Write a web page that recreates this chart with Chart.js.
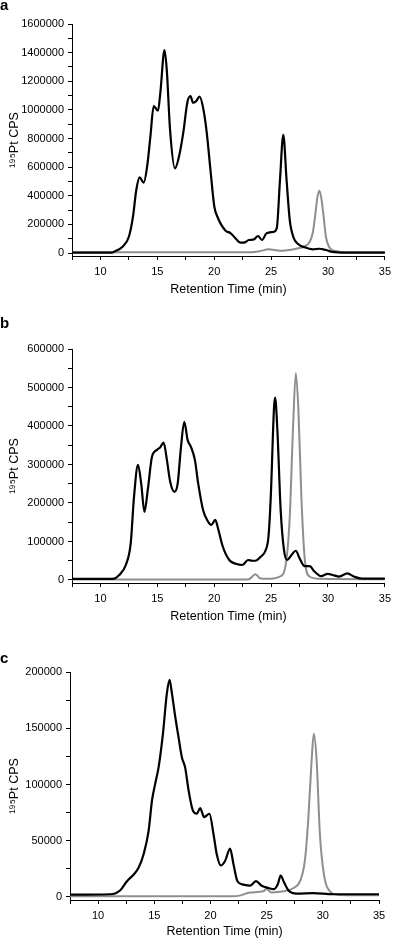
<!DOCTYPE html>
<html>
<head>
<meta charset="utf-8">
<script src="https://cdn.jsdelivr.net/npm/chart.js@4"></script>
<style>
  html, body { margin: 0; padding: 0; background: #fff; width: 396px; height: 939px; overflow: hidden; }
  .panel { position: absolute; left: 0; }
</style>
</head>
<body>
<div class="panel" id="wrapA" style="top:0px"><canvas id="chartA" width="396" height="305"></canvas></div>
<div class="panel" id="wrapB" style="top:305px"><canvas id="chartB" width="396" height="323"></canvas></div>
<div class="panel" id="wrapC" style="top:628px"><canvas id="chartC" width="396" height="320"></canvas></div>
<script>
// ---- data (retention time in min, 195Pt counts per second) ----

// panel a
const timeA_black = [7.5, 11.0, 11.2, 11.94, 12.5, 12.86, 13.15, 13.44, 13.8, 14.1, 14.39, 14.68, 15.06, 15.26, 15.63, 15.83, 16.12, 16.55, 16.9, 17.27, 17.65, 17.91, 18.14, 18.37, 18.72, 19.06, 19.35, 19.67, 20.01, 20.3, 20.6, 21.0, 21.45, 21.9, 22.3, 22.6, 23.05, 23.48, 23.85, 24.2, 24.6, 25.2, 25.5, 25.78, 26.07, 26.36, 26.64, 26.99, 27.37, 27.94, 28.66, 29.24, 29.82, 30.4, 31.5, 35];
const cpsA_black = [3000, 3000, 9000, 44000, 114000, 254000, 440000, 529000, 491000, 603000, 813000, 1027000, 994000, 1116000, 1418000, 1279000, 859000, 592000, 673000, 836000, 1057000, 1097000, 1050000, 1057000, 1092000, 999000, 836000, 580000, 324000, 250000, 200000, 156000, 138000, 100000, 72000, 72000, 91000, 95000, 119000, 91000, 138000, 147000, 175000, 510000, 825000, 510000, 230000, 105000, 63000, 40000, 26000, 30000, 21000, 8000, 3000, 3000];
const timeA_grey = [7.5, 22.5, 23.2, 24.0, 24.77, 25.78, 26.9, 27.5, 27.9, 28.37, 28.66, 28.9, 29.05, 29.24, 29.4, 29.58, 29.82, 30.1, 30.67, 31.5, 35];
const cpsA_grey = [5000, 5000, 5000, 12000, 26000, 16000, 25000, 35000, 45000, 75000, 140000, 280000, 380000, 435000, 390000, 280000, 112000, 42000, 14000, 6000, 5000];

// panel b
const timeB_black = [7.5, 11.07, 11.65, 12.23, 12.66, 12.95, 13.3, 13.58, 13.87, 14.16, 14.53, 14.97, 15.26, 15.55, 15.84, 16.13, 16.5, 16.79, 17.08, 17.37, 17.66, 17.95, 18.3, 18.59, 19.02, 19.45, 19.74, 20.09, 20.37, 20.75, 21.32, 21.9, 22.48, 22.97, 23.34, 23.63, 24.06, 24.5, 24.77, 24.97, 25.26, 25.35, 25.55, 25.84, 26.13, 26.41, 26.79, 27.17, 27.51, 27.95, 28.38, 28.81, 29.39, 29.97, 30.54, 30.98, 31.7, 32.28, 33, 35];
const cpsB_black = [3000, 3000, 13000, 39000, 95000, 216000, 299000, 251000, 177000, 234000, 320000, 338000, 345000, 357000, 312000, 255000, 229000, 251000, 346000, 411000, 364000, 346000, 312000, 251000, 182000, 152000, 143000, 156000, 130000, 87000, 52000, 42000, 39000, 52000, 50000, 50000, 60000, 76000, 113000, 216000, 450000, 474000, 390000, 182000, 78000, 52000, 65000, 76000, 56000, 36000, 36000, 22000, 10000, 16000, 12000, 9000, 17000, 9000, 3500, 3500];
const timeB_grey = [7.5, 22.5, 23.05, 23.63, 24.06, 24.92, 25.78, 26.3, 26.64, 26.93, 27.17, 27.4, 27.66, 27.95, 28.38, 29.25, 35];
const cpsB_grey = [1000, 1000, 2000, 15000, 4000, 3000, 9000, 43000, 165000, 398000, 537000, 442000, 216000, 56000, 9000, 3000, 2000];

// panel c
const timeC_black = [7.5, 11.1, 11.98, 12.57, 13.17, 13.6, 14.05, 14.5, 14.8, 15.09, 15.38, 15.77, 16.12, 16.36, 16.57, 16.87, 17.16, 17.46, 17.75, 18.05, 18.43, 18.79, 19.08, 19.44, 19.91, 20.27, 20.56, 20.92, 21.3, 21.75, 22.05, 22.4, 22.93, 23.52, 24.05, 24.56, 25.15, 25.66, 25.98, 26.25, 26.55, 26.93, 27.67, 29.15, 30.9, 35];
const cpsC_black = [2000, 2400, 6000, 14000, 20000, 26000, 38000, 59000, 86000, 101000, 115000, 145000, 181000, 193000, 181000, 160000, 142000, 124000, 115000, 95000, 77000, 74000, 79000, 71000, 74000, 56000, 38000, 28000, 32000, 43000, 29000, 14000, 11000, 10000, 14000, 10000, 8000, 7000, 11000, 19000, 13000, 6000, 3000, 3500, 2400, 2400];
const timeC_grey = [7.5, 22.0, 22.6, 23.52, 24.7, 24.97, 25.44, 26.5, 27.4, 27.97, 28.4, 28.7, 29.0, 29.2, 29.45, 29.74, 30.1, 30.63, 31.5, 35];
const cpsC_grey = [600, 600, 1200, 4000, 5000, 7000, 4000, 5000, 8000, 14000, 32000, 68000, 121000, 145000, 121000, 56000, 20000, 5000, 1800, 1500];

// axis ranges / ticks (minor tick step, labelled every n-th)
const xMin = 7.5, xMax = 35, xStep = 2.5, xLabelEvery = 5;
const yMaxA = 1600000, yStepA = 100000, yLabelA = 200000;
const yMaxB = 600000, yStepB = 50000, yLabelB = 100000;
const yMaxC = 200000, yStepC = 25000, yLabelC = 50000;

const xTitle = 'Retention Time (min)';
const yTitle = '¹⁹⁵Pt CPS';

const FONT = '"Liberation Sans", Arial, Helvetica, sans-serif';

function pairs(xs, ys) {
  return xs.map((x, i) => ({ x: x, y: ys[i] }));
}

function tickList(from, to, step) {
  const out = [];
  const n = Math.round((to - from) / step);
  for (let i = 0; i <= n; i++) out.push({ value: from + i * step });
  return out;
}

// draws the panel letter (a, b, c) in the top left corner
const panelLetter = {
  id: 'panelLetter',
  afterDraw(chart, args, opts) {
    const ctx = chart.ctx;
    ctx.save();
    ctx.font = 'bold 15px ' + FONT;
    ctx.fillStyle = '#000';
    ctx.textBaseline = 'alphabetic';
    ctx.textAlign = 'left';
    ctx.fillText(opts.text, 0, opts.y);
    ctx.restore();
  }
};

// p: canvas top, chart area edges and title position, all in page pixels
function makePanel(canvasId, p, black, grey, yMax, yStep, yLabel) {
  const canvasH = document.getElementById(canvasId).height;
  const xH = p.titleY - p.bottom + 6.25;
  const data = {
    datasets: [{
      label: 'black',
      data: black,
      borderColor: '#000',
      borderWidth: 2.2,
      pointRadius: 0,
      tension: 0.4,
      cubicInterpolationMode: 'monotone',
      fill: false
    }, {
      label: 'grey',
      data: grey,
      borderColor: '#8e8e8e',
      borderWidth: 2,
      pointRadius: 0,
      tension: 0.4,
      cubicInterpolationMode: 'monotone',
      fill: false
    }]
  };

  const config = {
    type: 'line',
    data: data,
    plugins: [panelLetter],
    options: {
      responsive: false,
      animation: false,
      devicePixelRatio: 1,
      layout: {
        padding: {
          top: p.top - p.canvasTop,
          left: 0,
          right: 396 - p.right,
          bottom: canvasH - (p.bottom - p.canvasTop) - xH
        }
      },
      plugins: {
        legend: { display: false },
        tooltip: { enabled: false },
        panelLetter: { text: p.letter, y: p.letterY - p.canvasTop }
      },
      scales: {
        x: {
          type: 'linear',
          min: xMin,
          max: xMax,
          afterFit: (scale) => { scale.height = xH; },
          afterBuildTicks: (scale) => { scale.ticks = tickList(xMin, xMax, xStep); },
          border: { display: true, color: '#000', width: 1 },
          grid: { drawOnChartArea: false, drawTicks: true, tickLength: 4, color: '#000' },
          ticks: {
            autoSkip: false,
            maxRotation: 0,
            padding: 5,
            color: '#000',
            font: { family: FONT, size: 11 },
            callback: (v) => (Math.abs(v % xLabelEvery) < 1e-6 ? String(v) : '')
          },
          title: {
            display: true,
            text: xTitle,
            color: '#000',
            font: { family: FONT, size: 12.5, lineHeight: 1 },
            padding: { top: 0, bottom: 0 }
          }
        },
        y: {
          type: 'linear',
          min: -yMax * p.yPad,
          max: yMax,
          afterFit: (scale) => { scale.width = p.left; },
          afterBuildTicks: (scale) => { scale.ticks = tickList(0, yMax, yStep); },
          border: { display: true, color: '#000', width: 1 },
          grid: { drawOnChartArea: false, drawTicks: true, tickLength: 4, color: '#000' },
          ticks: {
            autoSkip: false,
            padding: 4,
            color: '#000',
            font: { family: FONT, size: 11 },
            callback: (v) => (v % yLabel === 0 ? String(v) : '')
          },
          title: {
            display: true,
            text: yTitle,
            color: '#000',
            font: { family: FONT, size: 12.5, lineHeight: 1 },
            padding: { top: 8, bottom: 0 }
          }
        }
      }
    }
  };

  const canvas = document.getElementById(canvasId);
  return new Chart(canvas, config);
}

makePanel('chartA',
  { canvasTop: 0, top: 24, bottom: 256, left: 72, right: 390, titleY: 290, letter: 'a', letterY: 10, yPad: 0.013 },
  pairs(timeA_black, cpsA_black), pairs(timeA_grey, cpsA_grey), yMaxA, yStepA, yLabelA);

makePanel('chartB',
  { canvasTop: 305, top: 349, bottom: 583, left: 72, right: 390, titleY: 617, letter: 'b', letterY: 328, yPad: 0.013 },
  pairs(timeB_black, cpsB_black), pairs(timeB_grey, cpsB_grey), yMaxB, yStepB, yLabelB);

makePanel('chartC',
  { canvasTop: 628, top: 672, bottom: 900, left: 70, right: 379, titleY: 932, letter: 'c', letterY: 663, yPad: 0.0135 },
  pairs(timeC_black, cpsC_black), pairs(timeC_grey, cpsC_grey), yMaxC, yStepC, yLabelC);
</script>
</body>
</html>
